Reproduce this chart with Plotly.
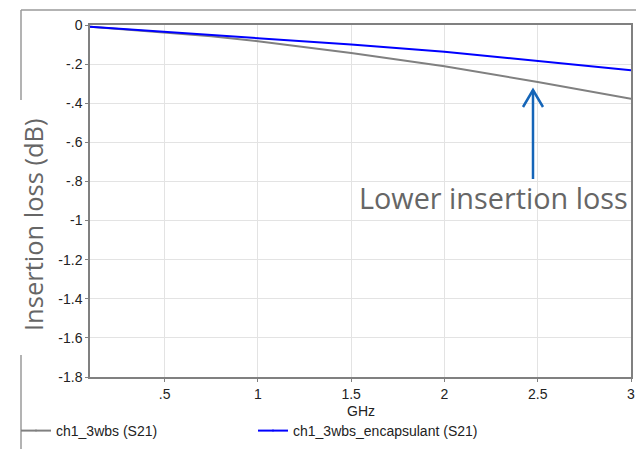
import plotly.graph_objects as go

freq_ghz = [0.1, 0.5, 0.75, 1.0, 1.5, 2.0, 2.5, 3.0]
loss_3wbs = [-0.009, -0.037, -0.058, -0.083, -0.143, -0.211, -0.291, -0.377]
loss_encap = [-0.009, -0.035, -0.050, -0.066, -0.100, -0.137, -0.184, -0.232]

x_tickvals = [0.5, 1, 1.5, 2, 2.5, 3]
x_ticktext = [".5", "1", "1.5", "2", "2.5", "3"]
y_tickvals = [0, -0.2, -0.4, -0.6, -0.8, -1.0, -1.2, -1.4, -1.6, -1.8]
y_ticktext = ["0", "-.2", "-.4", "-.6", "-.8", "-1", "-1.2", "-1.4", "-1.6", "-1.8"]

W, H = 636, 449
L, R, T, B = 90, 5, 25, 72
pw, ph = W - L - R, H - T - B

def px(x):
    return (x - L) / pw

def py(y):
    return (H - B - y) / ph

fig = go.Figure()
fig.add_trace(go.Scatter(x=freq_ghz, y=loss_3wbs, mode="lines+markers",
                         name="ch1_3wbs (S21)",
                         line=dict(color="#808080", width=2),
                         marker=dict(size=1, color="#808080")))
fig.add_trace(go.Scatter(x=freq_ghz, y=loss_encap, mode="lines+markers",
                         name="ch1_3wbs_encapsulant (S21)",
                         line=dict(color="#0000ff", width=2),
                         marker=dict(size=1, color="#0000ff")))

tick_font = dict(family="Liberation Sans, Arial", size=14, color="#222222")

fig.update_xaxes(range=[0.1, 3], tickvals=x_tickvals, ticktext=x_ticktext,
                 showgrid=True, gridcolor="#e3e3e3", gridwidth=1,
                 showline=True, linecolor="#808080", linewidth=1.5, mirror=True,
                 ticks="outside", ticklen=3, tickcolor="#808080",
                 tickfont=tick_font, zeroline=False, automargin=False)
fig.update_yaxes(range=[-1.8, 0], tickvals=y_tickvals, ticktext=y_ticktext,
                 showgrid=True, gridcolor="#e3e3e3", gridwidth=1,
                 showline=True, linecolor="#808080", linewidth=1.5, mirror=True,
                 ticks="outside", ticklen=3, tickcolor="#808080",
                 tickfont=tick_font, zeroline=False, automargin=False)

# X axis title
fig.add_annotation(text="GHz", xref="paper", yref="paper",
                   x=px(361), y=py(411), showarrow=False,
                   xanchor="center", yanchor="middle", font=tick_font)

# Y axis title
fig.add_annotation(text="Insertion loss (dB)", xref="paper", yref="paper",
                   x=px(33), y=py(225), textangle=-90, showarrow=False,
                   xanchor="center", yanchor="middle",
                   font=dict(family="Open Sans", size=25.5, color="#666666"))

# Annotation text
fig.add_annotation(text="Lower insertion loss", xref="paper", yref="paper",
                   x=px(493), y=py(197), showarrow=False,
                   xanchor="center", yanchor="middle",
                   font=dict(family="Open Sans", size=28.8, color="#666666"))

arrow_col = "#1565b8"
shapes = []
shapes.append(dict(type="line", xref="paper", yref="paper",
                   x0=px(533), y0=py(179), x1=px(533), y1=py(90),
                   line=dict(color=arrow_col, width=2.5)))
shapes.append(dict(type="path", xref="paper", yref="paper",
                   path=f"M {px(523)} {py(107)} L {px(533)} {py(90)} L {px(543)} {py(107)}",
                   line=dict(color=arrow_col, width=2.5)))
frame_col = "#9a9a9a"
shapes.append(dict(type="line", xref="paper", yref="paper",
                   x0=px(21), y0=py(10), x1=px(636), y1=py(10),
                   line=dict(color=frame_col, width=1.5)))
shapes.append(dict(type="line", xref="paper", yref="paper",
                   x0=px(21), y0=py(10), x1=px(21), y1=py(100),
                   line=dict(color=frame_col, width=1.5)))
shapes.append(dict(type="line", xref="paper", yref="paper",
                   x0=px(21), y0=py(355), x1=px(21), y1=py(449),
                   line=dict(color=frame_col, width=1.5)))

fig.update_layout(
    width=W, height=H,
    margin=dict(l=L, r=R, t=T, b=B, autoexpand=False),
    paper_bgcolor="white", plot_bgcolor="white",
    shapes=shapes,
    showlegend=True,
    legend=dict(orientation="h", xref="container", yref="container",
                x=16 / W, y=(449 - 431) / H, xanchor="left", yanchor="middle",
                font=tick_font, entrywidthmode="pixels", entrywidth=192,
                itemwidth=30, bgcolor="rgba(0,0,0,0)", tracegroupgap=0),
)

fig.write_html("out.html")
